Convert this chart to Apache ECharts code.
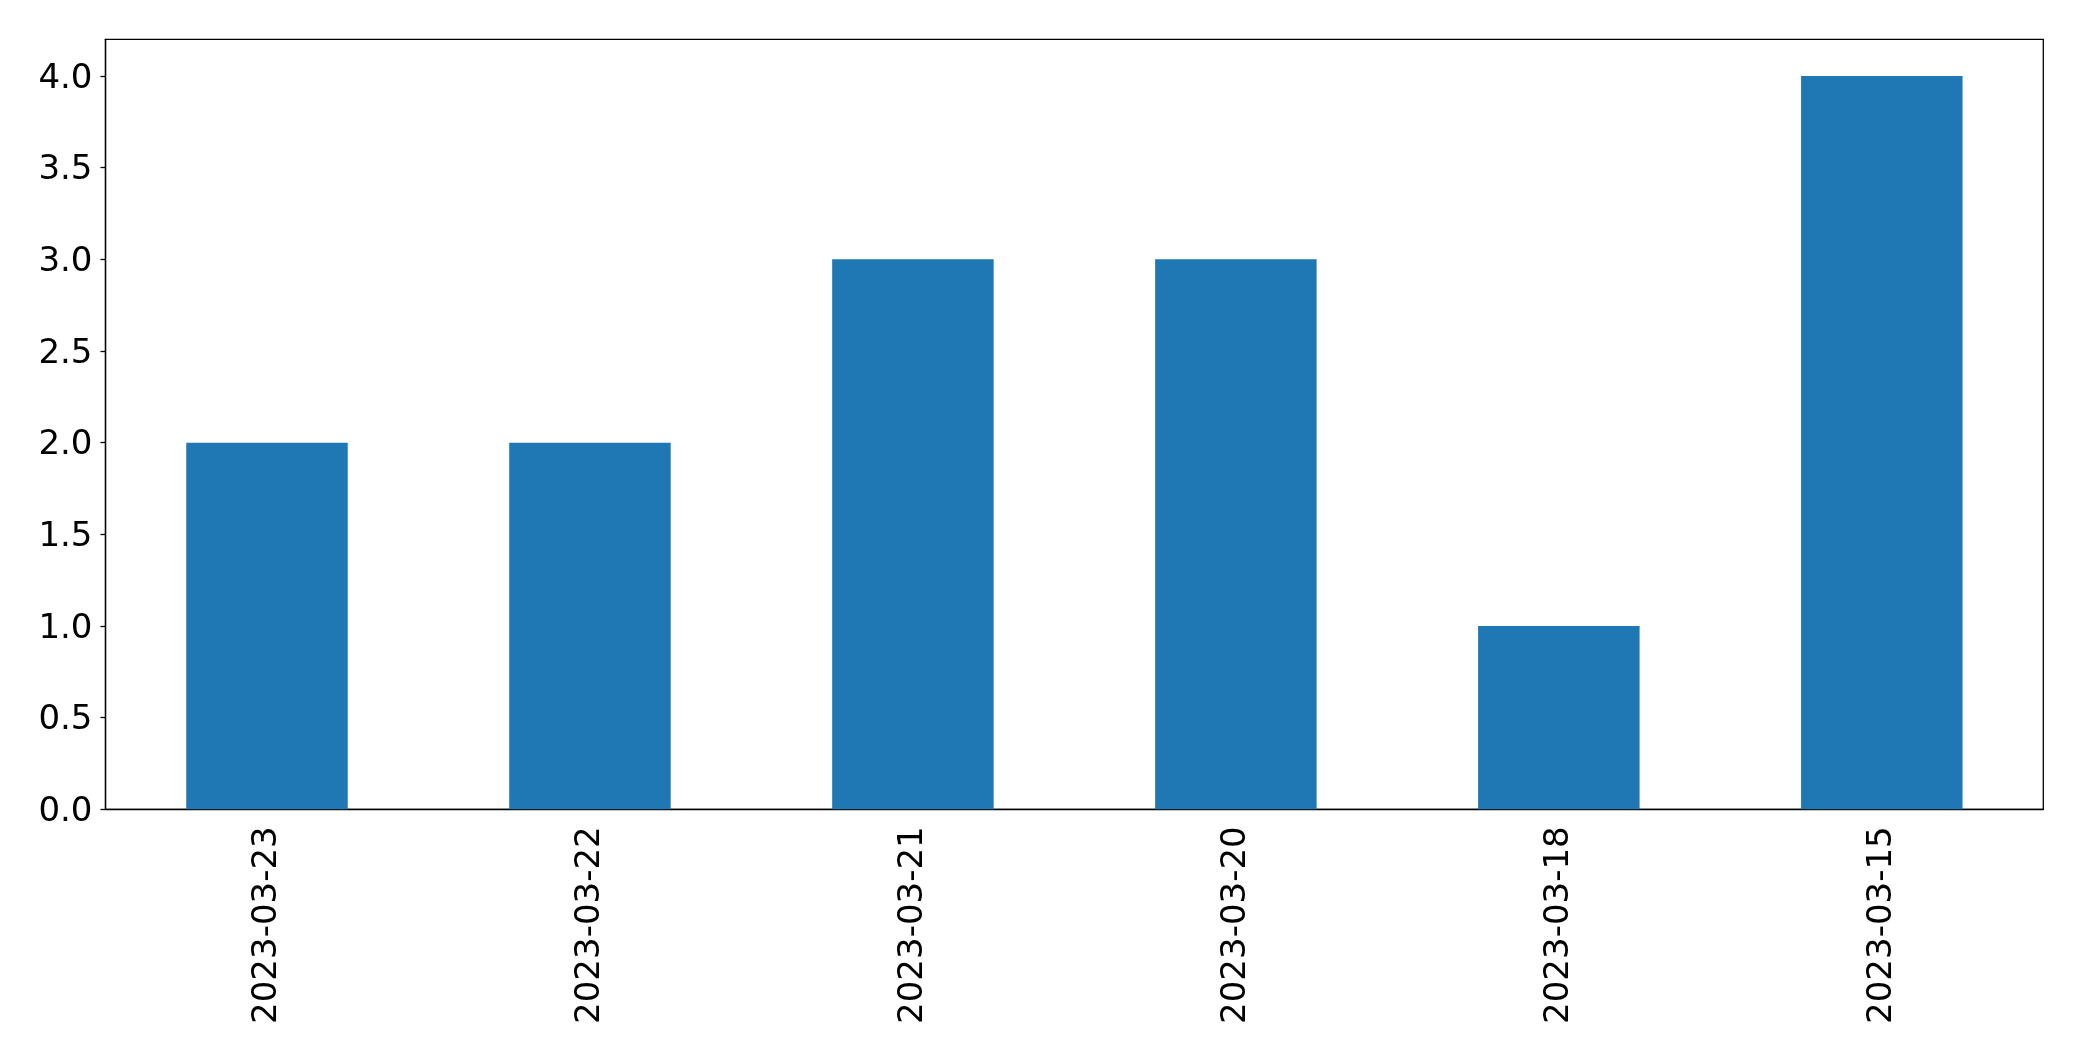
<!DOCTYPE html>
<html>
<head>
<meta charset="utf-8">
<script src="https://cdn.jsdelivr.net/npm/echarts@6/dist/echarts.min.js"></script>
<style>html,body{margin:0;padding:0;background:#fff;}#c{width:2082px;height:1061px;}</style>
</head>
<body>
<div id="c"></div>
<script>
const categories = ['2023-03-23', '2023-03-22', '2023-03-21', '2023-03-20', '2023-03-18', '2023-03-15'];
const values = [2, 2, 3, 3, 1, 4];
const yTicks = [0, 0.5, 1.0, 1.5, 2.0, 2.5, 3.0, 3.5, 4.0];

const chart = echarts.init(document.getElementById('c'), null, {renderer: 'canvas'});
chart.setOption({
  animation: false,
  backgroundColor: '#fff',
  grid: {left: 105.5, right: 2082 - 2043.3, top: 39.3, bottom: 1061 - 809.3, containLabel: false,
         show: true, borderColor: '#000', borderWidth: 1.3, backgroundColor: 'transparent'},
  xAxis: {
    type: 'category', data: categories,
    axisLine: {lineStyle: {color: '#000', width: 1.3}},
    axisTick: {alignWithLabel: true, length: 5, lineStyle: {color: '#000', width: 1.3}},
    axisLabel: {rotate: 90, margin: 17, fontSize: 34, color: '#000', fontFamily: 'DejaVu Sans'},
    splitLine: {show: false}
  },
  yAxis: {
    type: 'value', min: 0, max: 4.2, interval: 0.5,
    axisLine: {show: true, lineStyle: {color: '#000', width: 1.3}},
    axisTick: {show: true, length: 5, customValues: yTicks, lineStyle: {color: '#000', width: 1.3}},
    axisLabel: {margin: 13, fontSize: 34, color: '#000', fontFamily: 'DejaVu Sans', customValues: yTicks,
      rich: {a: {fontSize: 34, color: '#000', fontFamily: 'DejaVu Sans', padding: [6, 0, 0, 0]}},
      formatter: v => yTicks.includes(v) ? '{a|' + v.toFixed(1) + '}' : ''},
    splitLine: {show: false}
  },
  series: [{
    type: 'bar', data: values, barWidth: '50%',
    itemStyle: {color: '#1f77b4'}
  }]
});
</script>
</body>
</html>
